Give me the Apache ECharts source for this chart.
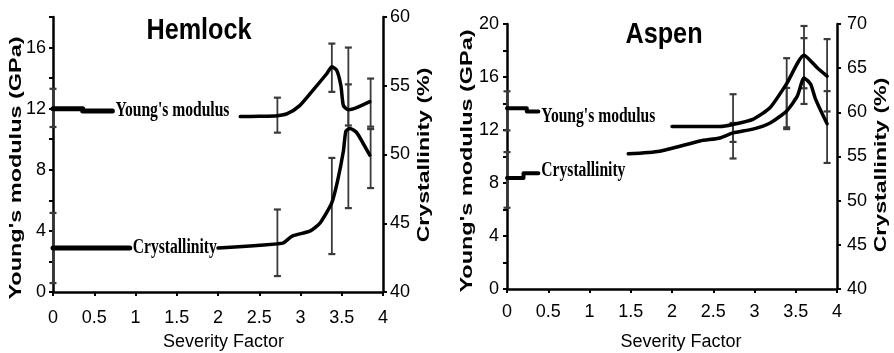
<!DOCTYPE html>
<html>
<head>
<meta charset="utf-8">
<script src="https://cdn.jsdelivr.net/npm/echarts@6.0.0/dist/echarts.min.js"></script>
<style>
  html, body { margin: 0; padding: 0; background: #fff; }
  #chart { width: 894px; height: 353px; }
</style>
</head>
<body>
<div id="chart"></div>
<script>
// Hemlock: [severity, value]; YM on left axis (GPa), crystallinity on right axis (%)
const hemYmStart = [[0, 12.0], [0.36, 12.0], [0.36, 11.85], [0.72, 11.85]];
const hemYmCurve = [[2.27, 11.48], [2.5, 11.5], [2.72, 11.54], [2.84, 11.67], [2.99, 12.2], [3.15, 13.2], [3.32, 14.3], [3.38, 14.75], [3.44, 14.5], [3.49, 13.5], [3.52, 12.2], [3.58, 11.93], [3.68, 12.07], [3.84, 12.46]];
const hemCrStart = [[0, 43.2], [0.93, 43.2]];
const hemCrCurve = [[2.0, 43.2], [2.39, 43.35], [2.72, 43.5], [2.79, 43.56], [2.9, 44.07], [3.12, 44.44], [3.24, 45.04], [3.38, 46.5], [3.45, 48.1], [3.52, 50.25], [3.55, 51.7], [3.6, 51.9], [3.68, 51.6], [3.76, 50.8], [3.84, 49.96]];
// error bars: [severity, low, high]
const hemYmErr = [[0, 10.8, 13.3], [2.72, 10.43, 12.72], [3.38, 13.1, 16.26], [3.58, 10.9, 16.0], [3.85, 10.82, 13.97]];
const hemCrErr = [[0, 40.65, 45.75], [2.72, 41.16, 46.0], [3.38, 42.76, 49.75], [3.58, 46.1, 55.1], [3.85, 47.56, 51.85]];

// Aspen
const aspYmStart = [[0, 13.64], [0.24, 13.64], [0.24, 13.4], [0.38, 13.4]];
const aspYmCurve = [[2.0, 12.27], [2.3, 12.27], [2.58, 12.27], [2.74, 12.42], [2.98, 12.8], [3.19, 13.7], [3.39, 15.5], [3.6, 17.65], [3.76, 16.7], [3.88, 16.06]];
const aspCrStart = [[0, 52.57], [0.2, 52.57], [0.2, 53.1], [0.38, 53.1]];
const aspCrCurve = [[1.47, 55.3], [1.85, 55.6], [2.34, 56.76], [2.58, 57.1], [2.74, 57.67], [2.98, 58.1], [3.19, 58.8], [3.39, 60.16], [3.52, 61.86], [3.6, 63.9], [3.68, 63.2], [3.74, 61.5], [3.88, 58.7]];
const aspYmErr = [[0, 11.97, 14.92], [2.74, 9.85, 14.7], [3.39, 12.2, 17.42], [3.6, 15.15, 19.85], [3.88, 13.4, 18.86]];
const aspCrErr = [[0, 49.2, 55.5], [2.74, 56.65, 58.8], [3.39, 58.1, 62.76], [3.6, 60.95, 68.4], [3.88, 54.27, 62.4]];

const panelTitles = ['Hemlock', 'Aspen'];
const ymName = "Young's modulus (GPa)";
const crName = 'Crystallinity (%)';
const xName = 'Severity Factor';
const ymLabel = "Young's modulus";
const crLabel = 'Crystallinity';

const FONT = '"Liberation Sans", Arial, sans-serif';
const INK = '#000';
const BAR = '#3a3a3a';

function errRender(params, api) {
  const x = api.value(0);
  const top = api.coord([x, api.value(2)]);
  const bot = api.coord([x, api.value(1)]);
  const w = 3.5;
  const st = { stroke: BAR, lineWidth: 1.8 };
  return {
    type: 'group',
    children: [
      { type: 'line', shape: { x1: top[0], y1: top[1], x2: bot[0], y2: bot[1] }, style: st },
      { type: 'line', shape: { x1: top[0] - w, y1: top[1], x2: top[0] + w, y2: top[1] }, style: { stroke: BAR, lineWidth: 2.2 } },
      { type: 'line', shape: { x1: bot[0] - w, y1: bot[1], x2: bot[0] + w, y2: bot[1] }, style: { stroke: BAR, lineWidth: 2.2 } },
    ],
  };
}

function errSeries(data, xi, yi) {
  return {
    type: 'custom', xAxisIndex: xi, yAxisIndex: yi, data: data, z: 1,
    encode: { x: 0, y: [1, 2] }, renderItem: errRender, silent: true,
  };
}

function lineSeries(data, xi, yi, width, smooth) {
  return {
    type: 'line', xAxisIndex: xi, yAxisIndex: yi, data: data, z: 3,
    showSymbol: false, symbol: 'none', smooth: smooth,
    lineStyle: { color: INK, width: width, cap: 'round', join: 'round' },
  };
}

// text label sitting just after the end of a starting segment
function labelSeries(seg, text, xi, yi, dy) {
  return {
    type: 'custom', xAxisIndex: xi, yAxisIndex: yi, data: [seg[seg.length - 1]], z: 4, silent: true,
    renderItem: (params, api) => {
      const p = api.coord([api.value(0), api.value(1)]);
      return {
        type: 'text', x: p[0] + 3, y: p[1] + dy, scaleX: 0.78,
        style: {
          text: text, fill: INK, font: 'bold 20px "Liberation Serif", "Times New Roman", serif',
          align: 'left', verticalAlign: 'middle', textAlign: 'left', textVerticalAlign: 'middle',
        },
      };
    },
  };
}

function vText(text, x, y, stretch) {
  return {
    type: 'text', x: x, y: y, rotation: Math.PI / 2, scaleX: stretch,
    style: {
      text: text, fill: INK, font: 'bold 17px ' + FONT,
      align: 'center', verticalAlign: 'middle', textAlign: 'center', textVerticalAlign: 'middle',
    },
  };
}

function titleText(text, x, y) {
  return {
    type: 'text', x: x, y: y, scaleX: 0.87,
    style: {
      text: text, fill: INK, font: 'bold 29px ' + FONT,
      align: 'center', verticalAlign: 'middle', textAlign: 'center', textVerticalAlign: 'middle',
    },
  };
}

const axisLine = { show: true, lineStyle: { color: INK, width: 2.5 } };
const axisTick = { show: true, length: 4, lineStyle: { color: INK, width: 2 } };

function xAxisOf(gi, margin, nameGap, namePad) {
  return {
    type: 'value', gridIndex: gi, min: 0, max: 4, interval: 0.5,
    axisLine: axisLine, axisTick: axisTick, splitLine: { show: false },
    axisLabel: { color: INK, fontSize: 18, fontFamily: FONT, margin: margin },
    name: xName, nameLocation: 'middle', nameGap: nameGap,
    nameTextStyle: { color: INK, fontSize: 18, fontFamily: FONT, padding: [0, 0, 0, namePad] },
  };
}

function leftAxisOf(gi, max, margin) {
  return {
    type: 'value', gridIndex: gi, position: 'left', min: 0, max: max, interval: 2,
    axisLine: axisLine, axisTick: axisTick, splitLine: { show: false },
    axisLabel: {
      color: INK, fontSize: 18, fontFamily: FONT, margin: margin, showMaxLabel: true,
      formatter: v => (v % 4 === 0 ? String(v) : ''),
    },
  };
}

function rightAxisOf(gi, max, margin) {
  return {
    type: 'value', gridIndex: gi, position: 'right', min: 40, max: max, interval: 5,
    axisLine: axisLine, axisTick: axisTick, splitLine: { show: false },
    axisLabel: { color: INK, fontSize: 18, fontFamily: FONT, margin: margin },
  };
}

const chart = echarts.init(document.getElementById('chart'), null, { renderer: 'canvas' });

chart.setOption({
  animation: false,
  backgroundColor: '#fff',
  grid: [
    { left: 53, top: 17, width: 330, height: 275, containLabel: false, outerBoundsMode: 'none' },
    { left: 507, top: 24, width: 330, height: 265, containLabel: false, outerBoundsMode: 'none' },
  ],
  xAxis: [xAxisOf(0, 17, 41, 11), xAxisOf(1, 14, 44, 18)],
  yAxis: [leftAxisOf(0, 18, 7), rightAxisOf(0, 60, 7), leftAxisOf(1, 20, 8), rightAxisOf(1, 70, 10)],
  graphic: {
    elements: [
      titleText(panelTitles[0], 199, 31),
      titleText(panelTitles[1], 664, 35),
      vText(ymName, 16, 168, 1.38),
      vText(crName, 424, 155, 1.36),
      vText(ymName, 467, 161, 1.38),
      vText(crName, 881, 165, 1.36),
    ],
  },
  series: [
    errSeries(hemYmErr, 0, 0),
    errSeries(hemCrErr, 0, 1),
    lineSeries(hemYmStart, 0, 0, 5, false),
    lineSeries(hemYmCurve, 0, 0, 3.5, 0.2),
    lineSeries(hemCrStart, 0, 1, 5, false),
    lineSeries(hemCrCurve, 0, 1, 3.5, 0.2),
    labelSeries(hemYmStart, ymLabel, 0, 0, 0),
    labelSeries(hemCrStart, crLabel, 0, 1, 0),

    errSeries(aspYmErr, 1, 2),
    errSeries(aspCrErr, 1, 3),
    lineSeries(aspYmStart, 1, 2, 4, false),
    lineSeries(aspYmCurve, 1, 2, 3.5, 0.2),
    lineSeries(aspCrStart, 1, 3, 4, false),
    lineSeries(aspCrCurve, 1, 3, 3.5, 0.2),
    labelSeries(aspYmStart, ymLabel, 1, 2, 5),
    labelSeries(aspCrStart, crLabel, 1, 3, -2),
  ],
});
</script>
</body>
</html>
